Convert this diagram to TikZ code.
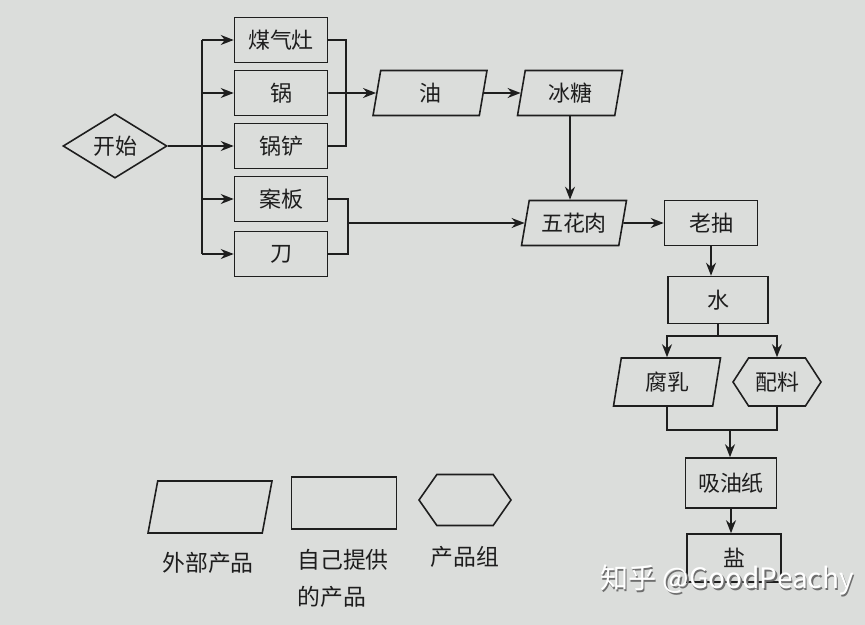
\documentclass[tikz,border=0pt]{standalone}
\usepackage{fontspec}
\setmainfont{Noto Sans CJK SC}
\usetikzlibrary{arrows.meta,positioning,shapes.geometric,shapes.symbols}
\definecolor{paper}{RGB}{219,221,219}
\definecolor{ink}{RGB}{30,30,30}
\definecolor{markgray}{RGB}{110,110,110}

\begin{document}
\begin{tikzpicture}[x=0.02cm,y=-0.02cm,
  every node/.style={font=\fontsize{12.5}{15}\selectfont,text=ink},
  stepbox/.style={draw=ink,line width=0.9pt,rectangle,minimum width=1.86cm,minimum height=0.9cm,inner sep=0pt},
  extin/.style={draw=ink,line width=0.9pt,trapezium,trapezium left angle=72,trapezium right angle=108,
    trapezium stretches body=true,minimum width=2.1cm,minimum height=0.9cm,inner sep=1pt},
  grp/.style={draw=ink,line width=0.9pt,signal,signal to=east and west,signal pointer angle=114,
    minimum width=1.76cm,minimum height=0.96cm,inner sep=1pt},
  arr/.style={draw=ink,line width=0.9pt,-{Stealth[length=2.6mm,width=2mm]}},
  ln/.style={draw=ink,line width=0.9pt}]
  \fill[paper] (0,0) rectangle (865,625);
  \useasboundingbox (0,0) rectangle (865,625);

  % start and the tools
  \node[draw=ink,line width=0.9pt,diamond,minimum width=2.08cm,minimum height=1.28cm,inner sep=0pt] (start) at (115,146) {开始};
  \node[stepbox] (zao) at (281,40) {煤气灶};
  \node[stepbox] (guo) at (281,93) {锅};
  \node[stepbox] (chan) at (281,146) {锅铲};
  \node[stepbox] (ban) at (281,199) {案板};
  \node[stepbox] (dao) at (281,254) {刀};
  \coordinate (bus) at (202,146);
  \coordinate (brA) at (346,93);
  \coordinate (brB) at (348,223);

  % ingredients
  \node[extin,minimum width=2.28cm] (you) at (430,93) {油};
  \node[extin] (bing) at (570,93) {冰糖};
  \node[extin] (wuhua) at (574,223) {五花肉};
  \node[stepbox] (laochou) at (711,223) {老抽};
  \node[stepbox,minimum width=2.0cm,minimum height=0.94cm] (shui) at (718,300) {水};
  \coordinate (split) at (718,336);
  \node[extin,minimum width=2.14cm,minimum height=0.96cm] (furu) at (667,382) {腐乳};
  \node[grp] (peiliao) at (777,382) {配料};
  \coordinate (merge) at (730,430);
  \node[stepbox,minimum width=1.82cm,minimum height=1.0cm] (xiyou) at (731,483) {吸油纸};
  \node[stepbox,minimum width=1.88cm,minimum height=0.96cm] (yan) at (734,558) {盐};

  % connectors
  \draw[arr] (start.east) -- (chan.west);
  \draw[ln] (bus |- zao.west) -- (bus |- dao.west);
  \foreach \n in {zao,guo,ban,dao}
    \draw[arr] (bus |- \n.west) -- (\n.west);
  \draw[ln] (zao.east) -| (brA) |- (chan.east);
  \draw[arr] (guo.east) -- (you.west);
  \draw[arr] (you.east) -- (bing.west);
  \draw[ln] (ban.east) -| (brB) |- (dao.east);
  \draw[arr] (brB) -- (wuhua.west);
  \draw[arr] (bing.south) -- (bing.south |- wuhua.north);
  \draw[arr] (wuhua.east) -- (laochou.west);
  \draw[arr] (laochou.south) -- (laochou.south |- shui.north);
  \draw[ln] (shui.south) -- (split);
  \draw[arr] (split) -| (furu.north);
  \draw[arr] (split) -| (peiliao.north);
  \draw[ln] (furu.south) |- (merge) -| (peiliao.south);
  \draw[arr] (merge) -- (merge |- xiyou.north);
  \draw[arr] (xiyou.south) -- (xiyou.south |- yan.north);

  % legend
  \node[extin,minimum width=2.48cm,minimum height=1.04cm] (lgext) at (210,507) {\strut};
  \node[stepbox,minimum width=2.1cm,minimum height=1.04cm] (lgown) at (344,503) {};
  \node[grp,minimum width=1.84cm,minimum height=1.02cm,signal pointer angle=110] (lggrp) at (465,500) {\strut};
  \node[font=\fontsize{13}{21}\selectfont] (lbext) at (208,563) {外部产品};
  \node[font=\fontsize{13}{21}\selectfont,align=left] (lbown) at (343,578) {自己提供\\的产品};
  \node[font=\fontsize{13}{21}\selectfont] (lbgrp) at (465,557) {产品组};

  % watermark
  \node[font=\fontsize{16}{18}\selectfont,text=markgray] (markshadow) at (728.6,581.6) {知乎\ @GoodPeachy};
  \node[font=\fontsize{16}{18}\selectfont,text=white] (mark) at (727,580) {知乎\ @GoodPeachy};
\end{tikzpicture}
\end{document}
